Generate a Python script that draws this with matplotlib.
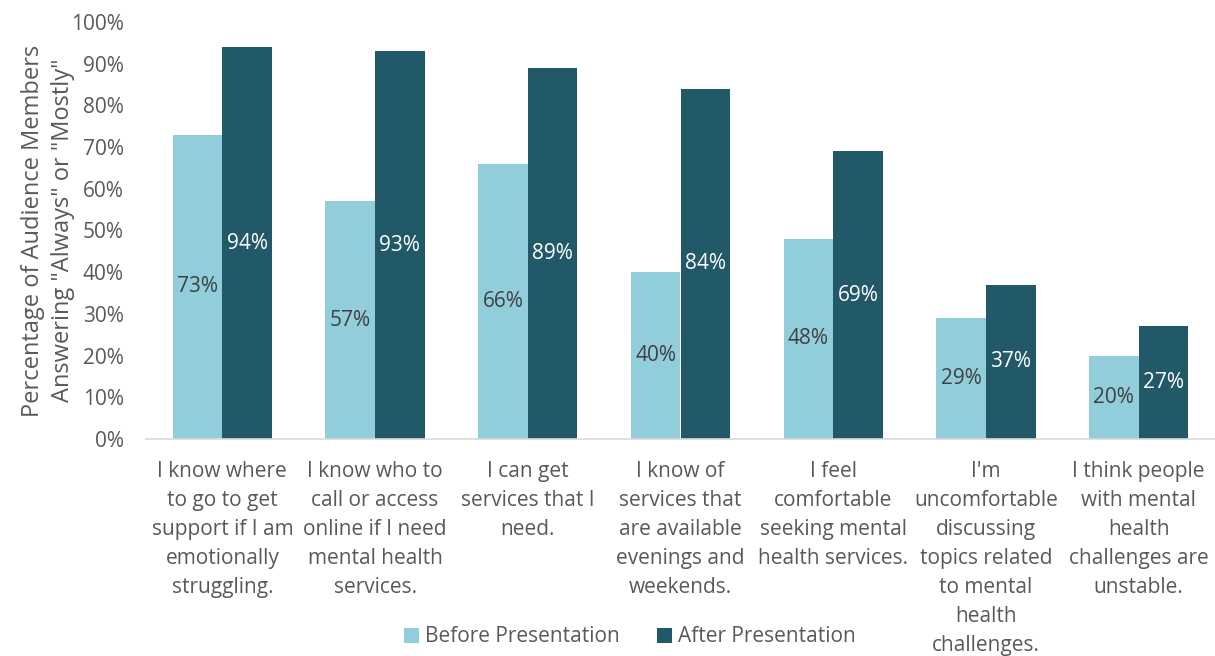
import matplotlib.pyplot as plt
import numpy as np
from matplotlib.ticker import PercentFormatter

LIGHT = "#92CDDC"
DARK = "#215968"
GRAY = "#595959"

categories = [
    "I know where\nto go to get\nsupport if I am\nemotionally\nstruggling.",
    "I know who to\ncall or access\nonline if I need\nmental health\nservices.",
    "I can get\nservices that I\nneed.",
    "I know of\nservices that\nare available\nevenings and\nweekends.",
    "I feel\ncomfortable\nseeking mental\nhealth services.",
    "I'm\nuncomfortable\ndiscussing\ntopics related\nto mental\nhealth\nchallenges.",
    "I think people\nwith mental\nhealth\nchallenges are\nunstable.",
]
before = [73, 57, 66, 40, 48, 29, 20]
after = [94, 93, 89, 84, 69, 37, 27]

plt.rcParams['font.family'] = ['Open Sans', 'DejaVu Sans']

fig = plt.figure(figsize=(12.15, 6.56), dpi=100)
ax = fig.add_axes([146/1215, 1-439/656, 1069/1215, 417/656])

x = np.arange(len(categories))
w = 0.325
b1 = ax.bar(x - w/2, before, w, color=LIGHT, label="Before Presentation")
b2 = ax.bar(x + w/2, after, w, color=DARK, label="After Presentation")

for rect, v in zip(b1, before):
    ax.text(rect.get_x() + rect.get_width()/2, v/2, f"{v}%", ha='center', va='center',
            fontsize=15, color="#404040")
for rect, v in zip(b2, after):
    ax.text(rect.get_x() + rect.get_width()/2, v/2, f"{v}%", ha='center', va='center',
            fontsize=15, color="white")

ax.set_xlim(-0.5, len(categories) - 0.5)
ax.set_ylim(0, 100)
ax.set_yticks(range(0, 101, 10))
ax.yaxis.set_major_formatter(PercentFormatter(decimals=0))
ax.set_xticks(x)
ax.set_xticklabels(categories, fontsize=15, color=GRAY, va='top', linespacing=1.5)
ax.tick_params(axis='y', labelsize=15, labelcolor=GRAY, length=0, pad=16)
ax.tick_params(axis='x', length=0, pad=16)
for s in ['top', 'right', 'left']:
    ax.spines[s].set_visible(False)
ax.spines['bottom'].set_color("#D9D9D9")
ax.spines['bottom'].set_linewidth(1.2)

ax.set_ylabel('Percentage of Audience Members\nAnswering "Always" or "Mostly"',
              fontsize=17, color=GRAY, linespacing=1.35)
ax.yaxis.set_label_coords(-0.066, 0.5)

fig.legend(handles=[b1, b2], loc='center', bbox_to_anchor=(630/1215, 1-637/656),
           ncol=2, frameon=False, fontsize=15, labelcolor=GRAY,
           handlelength=0.7, handleheight=0.7, handletextpad=0.3, columnspacing=1.8)

fig.savefig("out.png", dpi=100, facecolor="white")
